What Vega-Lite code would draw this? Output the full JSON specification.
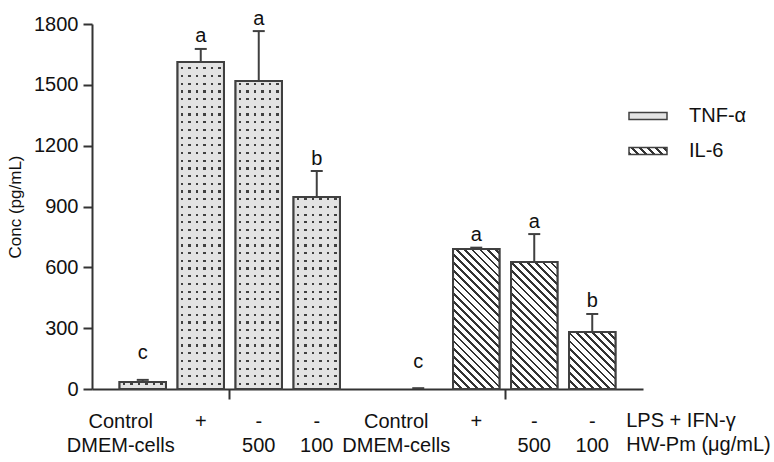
{
  "$schema": "https://vega.github.io/schema/vega-lite/v6.json",
  "autosize": "none",
  "width": 551,
  "height": 365,
  "padding": {"left": 92, "top": 24, "right": 131, "bottom": 73},
  "config": {
    "view": {"stroke": null},
    "font": "Liberation Sans",
    "axis": {"domainColor": "#333", "domainWidth": 2, "tickColor": "#333", "tickWidth": 2, "labelColor": "#111", "grid": false, "labelFont": "Liberation Sans", "titleFont": "Liberation Sans"}
  },
  "params": [
    {"name": "hatchStops", "value": [
      {"offset":0,"color":"#333"},{"offset":0.0097,"color":"#333"},{"offset":0.0097,"color":"#fff"},{"offset":0.0278,"color":"#fff"},
      {"offset":0.0278,"color":"#333"},{"offset":0.0375,"color":"#333"},{"offset":0.0375,"color":"#fff"},{"offset":0.0556,"color":"#fff"},
      {"offset":0.0556,"color":"#333"},{"offset":0.0653,"color":"#333"},{"offset":0.0653,"color":"#fff"},{"offset":0.0833,"color":"#fff"},
      {"offset":0.0833,"color":"#333"},{"offset":0.0931,"color":"#333"},{"offset":0.0931,"color":"#fff"},{"offset":0.1111,"color":"#fff"},
      {"offset":0.1111,"color":"#333"},{"offset":0.1208,"color":"#333"},{"offset":0.1208,"color":"#fff"},{"offset":0.1389,"color":"#fff"},
      {"offset":0.1389,"color":"#333"},{"offset":0.1486,"color":"#333"},{"offset":0.1486,"color":"#fff"},{"offset":0.1667,"color":"#fff"},
      {"offset":0.1667,"color":"#333"},{"offset":0.1764,"color":"#333"},{"offset":0.1764,"color":"#fff"},{"offset":0.1944,"color":"#fff"},
      {"offset":0.1944,"color":"#333"},{"offset":0.2042,"color":"#333"},{"offset":0.2042,"color":"#fff"},{"offset":0.2222,"color":"#fff"},
      {"offset":0.2222,"color":"#333"},{"offset":0.2319,"color":"#333"},{"offset":0.2319,"color":"#fff"},{"offset":0.25,"color":"#fff"},
      {"offset":0.25,"color":"#333"},{"offset":0.2597,"color":"#333"},{"offset":0.2597,"color":"#fff"},{"offset":0.2778,"color":"#fff"},
      {"offset":0.2778,"color":"#333"},{"offset":0.2875,"color":"#333"},{"offset":0.2875,"color":"#fff"},{"offset":0.3056,"color":"#fff"},
      {"offset":0.3056,"color":"#333"},{"offset":0.3153,"color":"#333"},{"offset":0.3153,"color":"#fff"},{"offset":0.3333,"color":"#fff"},
      {"offset":0.3333,"color":"#333"},{"offset":0.3431,"color":"#333"},{"offset":0.3431,"color":"#fff"},{"offset":0.3611,"color":"#fff"},
      {"offset":0.3611,"color":"#333"},{"offset":0.3708,"color":"#333"},{"offset":0.3708,"color":"#fff"},{"offset":0.3889,"color":"#fff"},
      {"offset":0.3889,"color":"#333"},{"offset":0.3986,"color":"#333"},{"offset":0.3986,"color":"#fff"},{"offset":0.4167,"color":"#fff"},
      {"offset":0.4167,"color":"#333"},{"offset":0.4264,"color":"#333"},{"offset":0.4264,"color":"#fff"},{"offset":0.4444,"color":"#fff"},
      {"offset":0.4444,"color":"#333"},{"offset":0.4542,"color":"#333"},{"offset":0.4542,"color":"#fff"},{"offset":0.4722,"color":"#fff"},
      {"offset":0.4722,"color":"#333"},{"offset":0.4819,"color":"#333"},{"offset":0.4819,"color":"#fff"},{"offset":0.5,"color":"#fff"},
      {"offset":0.5,"color":"#333"},{"offset":0.5097,"color":"#333"},{"offset":0.5097,"color":"#fff"},{"offset":0.5278,"color":"#fff"},
      {"offset":0.5278,"color":"#333"},{"offset":0.5375,"color":"#333"},{"offset":0.5375,"color":"#fff"},{"offset":0.5556,"color":"#fff"},
      {"offset":0.5556,"color":"#333"},{"offset":0.5653,"color":"#333"},{"offset":0.5653,"color":"#fff"},{"offset":0.5833,"color":"#fff"},
      {"offset":0.5833,"color":"#333"},{"offset":0.5931,"color":"#333"},{"offset":0.5931,"color":"#fff"},{"offset":0.6111,"color":"#fff"},
      {"offset":0.6111,"color":"#333"},{"offset":0.6208,"color":"#333"},{"offset":0.6208,"color":"#fff"},{"offset":0.6389,"color":"#fff"},
      {"offset":0.6389,"color":"#333"},{"offset":0.6486,"color":"#333"},{"offset":0.6486,"color":"#fff"},{"offset":0.6667,"color":"#fff"},
      {"offset":0.6667,"color":"#333"},{"offset":0.6764,"color":"#333"},{"offset":0.6764,"color":"#fff"},{"offset":0.6944,"color":"#fff"},
      {"offset":0.6944,"color":"#333"},{"offset":0.7042,"color":"#333"},{"offset":0.7042,"color":"#fff"},{"offset":0.7222,"color":"#fff"},
      {"offset":0.7222,"color":"#333"},{"offset":0.7319,"color":"#333"},{"offset":0.7319,"color":"#fff"},{"offset":0.75,"color":"#fff"},
      {"offset":0.75,"color":"#333"},{"offset":0.7597,"color":"#333"},{"offset":0.7597,"color":"#fff"},{"offset":0.7778,"color":"#fff"},
      {"offset":0.7778,"color":"#333"},{"offset":0.7875,"color":"#333"},{"offset":0.7875,"color":"#fff"},{"offset":0.8056,"color":"#fff"},
      {"offset":0.8056,"color":"#333"},{"offset":0.8153,"color":"#333"},{"offset":0.8153,"color":"#fff"},{"offset":0.8333,"color":"#fff"},
      {"offset":0.8333,"color":"#333"},{"offset":0.8431,"color":"#333"},{"offset":0.8431,"color":"#fff"},{"offset":0.8611,"color":"#fff"},
      {"offset":0.8611,"color":"#333"},{"offset":0.8708,"color":"#333"},{"offset":0.8708,"color":"#fff"},{"offset":0.8889,"color":"#fff"},
      {"offset":0.8889,"color":"#333"},{"offset":0.8986,"color":"#333"},{"offset":0.8986,"color":"#fff"},{"offset":0.9167,"color":"#fff"},
      {"offset":0.9167,"color":"#333"},{"offset":0.9264,"color":"#333"},{"offset":0.9264,"color":"#fff"},{"offset":0.9444,"color":"#fff"},
      {"offset":0.9444,"color":"#333"},{"offset":0.9542,"color":"#333"},{"offset":0.9542,"color":"#fff"},{"offset":0.9722,"color":"#fff"},
      {"offset":0.9722,"color":"#333"},{"offset":0.9819,"color":"#333"},{"offset":0.9819,"color":"#fff"},{"offset":1,"color":"#fff"}
    ]},
    {"name": "rowStops", "value": [
      {"offset":0,"color":"#e3e3e3"},
      {"offset":0.0096,"color":"#e3e3e3"},{"offset":0.0096,"color":"transparent"},{"offset":0.0151,"color":"transparent"},{"offset":0.0151,"color":"#e3e3e3"},
      {"offset":0.0288,"color":"#e3e3e3"},{"offset":0.0288,"color":"transparent"},{"offset":0.0343,"color":"transparent"},{"offset":0.0343,"color":"#e3e3e3"},
      {"offset":0.0481,"color":"#e3e3e3"},{"offset":0.0481,"color":"transparent"},{"offset":0.0536,"color":"transparent"},{"offset":0.0536,"color":"#e3e3e3"},
      {"offset":0.0673,"color":"#e3e3e3"},{"offset":0.0673,"color":"transparent"},{"offset":0.0728,"color":"transparent"},{"offset":0.0728,"color":"#e3e3e3"},
      {"offset":0.0865,"color":"#e3e3e3"},{"offset":0.0865,"color":"transparent"},{"offset":0.092,"color":"transparent"},{"offset":0.092,"color":"#e3e3e3"},
      {"offset":0.1058,"color":"#e3e3e3"},{"offset":0.1058,"color":"transparent"},{"offset":0.1113,"color":"transparent"},{"offset":0.1113,"color":"#e3e3e3"},
      {"offset":0.125,"color":"#e3e3e3"},{"offset":0.125,"color":"transparent"},{"offset":0.1305,"color":"transparent"},{"offset":0.1305,"color":"#e3e3e3"},
      {"offset":0.1442,"color":"#e3e3e3"},{"offset":0.1442,"color":"transparent"},{"offset":0.1497,"color":"transparent"},{"offset":0.1497,"color":"#e3e3e3"},
      {"offset":0.1635,"color":"#e3e3e3"},{"offset":0.1635,"color":"transparent"},{"offset":0.169,"color":"transparent"},{"offset":0.169,"color":"#e3e3e3"},
      {"offset":0.1827,"color":"#e3e3e3"},{"offset":0.1827,"color":"transparent"},{"offset":0.1882,"color":"transparent"},{"offset":0.1882,"color":"#e3e3e3"},
      {"offset":0.2019,"color":"#e3e3e3"},{"offset":0.2019,"color":"transparent"},{"offset":0.2074,"color":"transparent"},{"offset":0.2074,"color":"#e3e3e3"},
      {"offset":0.2212,"color":"#e3e3e3"},{"offset":0.2212,"color":"transparent"},{"offset":0.2267,"color":"transparent"},{"offset":0.2267,"color":"#e3e3e3"},
      {"offset":0.2404,"color":"#e3e3e3"},{"offset":0.2404,"color":"transparent"},{"offset":0.2459,"color":"transparent"},{"offset":0.2459,"color":"#e3e3e3"},
      {"offset":0.2596,"color":"#e3e3e3"},{"offset":0.2596,"color":"transparent"},{"offset":0.2651,"color":"transparent"},{"offset":0.2651,"color":"#e3e3e3"},
      {"offset":0.2788,"color":"#e3e3e3"},{"offset":0.2788,"color":"transparent"},{"offset":0.2843,"color":"transparent"},{"offset":0.2843,"color":"#e3e3e3"},
      {"offset":0.2981,"color":"#e3e3e3"},{"offset":0.2981,"color":"transparent"},{"offset":0.3036,"color":"transparent"},{"offset":0.3036,"color":"#e3e3e3"},
      {"offset":0.3173,"color":"#e3e3e3"},{"offset":0.3173,"color":"transparent"},{"offset":0.3228,"color":"transparent"},{"offset":0.3228,"color":"#e3e3e3"},
      {"offset":0.3365,"color":"#e3e3e3"},{"offset":0.3365,"color":"transparent"},{"offset":0.342,"color":"transparent"},{"offset":0.342,"color":"#e3e3e3"},
      {"offset":0.3558,"color":"#e3e3e3"},{"offset":0.3558,"color":"transparent"},{"offset":0.3613,"color":"transparent"},{"offset":0.3613,"color":"#e3e3e3"},
      {"offset":0.375,"color":"#e3e3e3"},{"offset":0.375,"color":"transparent"},{"offset":0.3805,"color":"transparent"},{"offset":0.3805,"color":"#e3e3e3"},
      {"offset":0.3942,"color":"#e3e3e3"},{"offset":0.3942,"color":"transparent"},{"offset":0.3997,"color":"transparent"},{"offset":0.3997,"color":"#e3e3e3"},
      {"offset":0.4135,"color":"#e3e3e3"},{"offset":0.4135,"color":"transparent"},{"offset":0.419,"color":"transparent"},{"offset":0.419,"color":"#e3e3e3"},
      {"offset":0.4327,"color":"#e3e3e3"},{"offset":0.4327,"color":"transparent"},{"offset":0.4382,"color":"transparent"},{"offset":0.4382,"color":"#e3e3e3"},
      {"offset":0.4519,"color":"#e3e3e3"},{"offset":0.4519,"color":"transparent"},{"offset":0.4574,"color":"transparent"},{"offset":0.4574,"color":"#e3e3e3"},
      {"offset":0.4712,"color":"#e3e3e3"},{"offset":0.4712,"color":"transparent"},{"offset":0.4767,"color":"transparent"},{"offset":0.4767,"color":"#e3e3e3"},
      {"offset":0.4904,"color":"#e3e3e3"},{"offset":0.4904,"color":"transparent"},{"offset":0.4959,"color":"transparent"},{"offset":0.4959,"color":"#e3e3e3"},
      {"offset":0.5096,"color":"#e3e3e3"},{"offset":0.5096,"color":"transparent"},{"offset":0.5151,"color":"transparent"},{"offset":0.5151,"color":"#e3e3e3"},
      {"offset":0.5288,"color":"#e3e3e3"},{"offset":0.5288,"color":"transparent"},{"offset":0.5343,"color":"transparent"},{"offset":0.5343,"color":"#e3e3e3"},
      {"offset":0.5481,"color":"#e3e3e3"},{"offset":0.5481,"color":"transparent"},{"offset":0.5536,"color":"transparent"},{"offset":0.5536,"color":"#e3e3e3"},
      {"offset":0.5673,"color":"#e3e3e3"},{"offset":0.5673,"color":"transparent"},{"offset":0.5728,"color":"transparent"},{"offset":0.5728,"color":"#e3e3e3"},
      {"offset":0.5865,"color":"#e3e3e3"},{"offset":0.5865,"color":"transparent"},{"offset":0.592,"color":"transparent"},{"offset":0.592,"color":"#e3e3e3"},
      {"offset":0.6058,"color":"#e3e3e3"},{"offset":0.6058,"color":"transparent"},{"offset":0.6113,"color":"transparent"},{"offset":0.6113,"color":"#e3e3e3"},
      {"offset":0.625,"color":"#e3e3e3"},{"offset":0.625,"color":"transparent"},{"offset":0.6305,"color":"transparent"},{"offset":0.6305,"color":"#e3e3e3"},
      {"offset":0.6442,"color":"#e3e3e3"},{"offset":0.6442,"color":"transparent"},{"offset":0.6497,"color":"transparent"},{"offset":0.6497,"color":"#e3e3e3"},
      {"offset":0.6635,"color":"#e3e3e3"},{"offset":0.6635,"color":"transparent"},{"offset":0.669,"color":"transparent"},{"offset":0.669,"color":"#e3e3e3"},
      {"offset":0.6827,"color":"#e3e3e3"},{"offset":0.6827,"color":"transparent"},{"offset":0.6882,"color":"transparent"},{"offset":0.6882,"color":"#e3e3e3"},
      {"offset":0.7019,"color":"#e3e3e3"},{"offset":0.7019,"color":"transparent"},{"offset":0.7074,"color":"transparent"},{"offset":0.7074,"color":"#e3e3e3"},
      {"offset":0.7212,"color":"#e3e3e3"},{"offset":0.7212,"color":"transparent"},{"offset":0.7267,"color":"transparent"},{"offset":0.7267,"color":"#e3e3e3"},
      {"offset":0.7404,"color":"#e3e3e3"},{"offset":0.7404,"color":"transparent"},{"offset":0.7459,"color":"transparent"},{"offset":0.7459,"color":"#e3e3e3"},
      {"offset":0.7596,"color":"#e3e3e3"},{"offset":0.7596,"color":"transparent"},{"offset":0.7651,"color":"transparent"},{"offset":0.7651,"color":"#e3e3e3"},
      {"offset":0.7788,"color":"#e3e3e3"},{"offset":0.7788,"color":"transparent"},{"offset":0.7843,"color":"transparent"},{"offset":0.7843,"color":"#e3e3e3"},
      {"offset":0.7981,"color":"#e3e3e3"},{"offset":0.7981,"color":"transparent"},{"offset":0.8036,"color":"transparent"},{"offset":0.8036,"color":"#e3e3e3"},
      {"offset":0.8173,"color":"#e3e3e3"},{"offset":0.8173,"color":"transparent"},{"offset":0.8228,"color":"transparent"},{"offset":0.8228,"color":"#e3e3e3"},
      {"offset":0.8365,"color":"#e3e3e3"},{"offset":0.8365,"color":"transparent"},{"offset":0.842,"color":"transparent"},{"offset":0.842,"color":"#e3e3e3"},
      {"offset":0.8558,"color":"#e3e3e3"},{"offset":0.8558,"color":"transparent"},{"offset":0.8613,"color":"transparent"},{"offset":0.8613,"color":"#e3e3e3"},
      {"offset":0.875,"color":"#e3e3e3"},{"offset":0.875,"color":"transparent"},{"offset":0.8805,"color":"transparent"},{"offset":0.8805,"color":"#e3e3e3"},
      {"offset":0.8942,"color":"#e3e3e3"},{"offset":0.8942,"color":"transparent"},{"offset":0.8997,"color":"transparent"},{"offset":0.8997,"color":"#e3e3e3"},
      {"offset":0.9135,"color":"#e3e3e3"},{"offset":0.9135,"color":"transparent"},{"offset":0.919,"color":"transparent"},{"offset":0.919,"color":"#e3e3e3"},
      {"offset":0.9327,"color":"#e3e3e3"},{"offset":0.9327,"color":"transparent"},{"offset":0.9382,"color":"transparent"},{"offset":0.9382,"color":"#e3e3e3"},
      {"offset":0.9519,"color":"#e3e3e3"},{"offset":0.9519,"color":"transparent"},{"offset":0.9574,"color":"transparent"},{"offset":0.9574,"color":"#e3e3e3"},
      {"offset":0.9712,"color":"#e3e3e3"},{"offset":0.9712,"color":"transparent"},{"offset":0.9767,"color":"transparent"},{"offset":0.9767,"color":"#e3e3e3"},
      {"offset":0.9904,"color":"#e3e3e3"},{"offset":0.9904,"color":"transparent"},{"offset":0.9959,"color":"transparent"},{"offset":0.9959,"color":"#e3e3e3"},
      {"offset":1,"color":"#e3e3e3"}
    ]},
    {"name": "legendStops", "value": [
      {"offset":0,"color":"#333"},{"offset":0.05,"color":"#333"},{"offset":0.05,"color":"#fff"},{"offset":0.1429,"color":"#fff"},
      {"offset":0.1429,"color":"#333"},{"offset":0.1929,"color":"#333"},{"offset":0.1929,"color":"#fff"},{"offset":0.2857,"color":"#fff"},
      {"offset":0.2857,"color":"#333"},{"offset":0.3357,"color":"#333"},{"offset":0.3357,"color":"#fff"},{"offset":0.4286,"color":"#fff"},
      {"offset":0.4286,"color":"#333"},{"offset":0.4786,"color":"#333"},{"offset":0.4786,"color":"#fff"},{"offset":0.5714,"color":"#fff"},
      {"offset":0.5714,"color":"#333"},{"offset":0.6214,"color":"#333"},{"offset":0.6214,"color":"#fff"},{"offset":0.7143,"color":"#fff"},
      {"offset":0.7143,"color":"#333"},{"offset":0.7643,"color":"#333"},{"offset":0.7643,"color":"#fff"},{"offset":0.8571,"color":"#fff"},
      {"offset":0.8571,"color":"#333"},{"offset":0.9071,"color":"#333"},{"offset":0.9071,"color":"#fff"},{"offset":1,"color":"#fff"}
    ]}
  ],
  "data": {"values": [
    {"cyt": "TNF-α", "cond": "Control", "mean": 35, "err": 45, "ly": 116, "letter": "c", "lab": "Control\nDMEM-cells"},
    {"cyt": "TNF-α", "cond": "LPS", "mean": 1612, "err": 1677, "ly": 1677, "letter": "a", "lab": "+"},
    {"cyt": "TNF-α", "cond": "500", "mean": 1519, "err": 1765, "ly": 1765, "letter": "a", "lab": "-\n500"},
    {"cyt": "TNF-α", "cond": "100", "mean": 947, "err": 1075, "ly": 1075, "letter": "b", "lab": "-\n100"},
    {"cyt": "IL-6", "cond": "Control", "mean": 0, "err": 4, "ly": 71, "letter": "c", "lab": "Control\nDMEM-cells"},
    {"cyt": "IL-6", "cond": "LPS", "mean": 690, "err": 697, "ly": 697, "letter": "a", "lab": "+"},
    {"cyt": "IL-6", "cond": "500", "mean": 626, "err": 764, "ly": 764, "letter": "a", "lab": "-\n500"},
    {"cyt": "IL-6", "cond": "100", "mean": 281, "err": 370, "ly": 370, "letter": "b", "lab": "-\n100"}
  ]},
  "encoding": {
    "x": {"field": "cyt", "type": "nominal", "sort": null,
      "scale": {"domain": ["TNF-α", "IL-6"], "paddingInner": 0, "paddingOuter": 0},
      "axis": {"title": null, "labels": false, "ticks": true, "tickSize": 10, "domain": true}},
    "xOffset": {"field": "cond", "type": "nominal", "sort": null,
      "scale": {"domain": ["Control", "LPS", "500", "100"], "paddingInner": 0.2, "paddingOuter": 0.475}}
  },
  "layer": [
    {
      "transform": [{"filter": "datum.mean > 0"}],
      "mark": {"type": "bar", "stroke": "#404040", "strokeWidth": 2},
      "encoding": {
        "y": {"field": "mean", "type": "quantitative", "stack": null,
          "scale": {"domain": [0, 1800], "nice": false},
          "axis": {"values": [0, 300, 600, 900, 1200, 1500, 1800], "format": "d", "tickSize": 9, "labelPadding": 5, "labelFontSize": 20,
            "title": "Conc (pg/mL)", "titleFontSize": 17, "titleFontWeight": "normal", "titleColor": "#111", "titlePadding": 9}},
        "fill": {"field": "cyt", "type": "nominal",
          "scale": {"domain": ["TNF-α", "IL-6"], "range": ["#e3e3e3", {"expr": "{gradient:'linear', x1:0, y1:1, x2:1.44, y2:0.735, stops: legendStops}"}]},
          "legend": {"orient": "none", "legendX": 536, "legendY": 72, "title": null,
            "symbolType": "M-1,-0.184H1V0.184H-1Z", "symbolSize": 1444,
            "labelFont": "Liberation Sans", "labelFontSize": 20, "labelColor": "#111", "labelOffset": 21, "rowPadding": 5,
            "symbolStrokeColor": "#404040", "symbolStrokeWidth": 1.5, "symbolOpacity": 1}}
      }
    },
    {
      "transform": [{"filter": "datum.mean > 0 && datum.cyt === 'TNF-α'"}],
      "mark": {"type": "bar", "strokeWidth": 0,
        "fill": {"gradient": "linear", "x1": 0, "y1": 0, "x2": 1, "y2": 0, "stops": [
          {"offset":0,"color":"#e3e3e3"},{"offset":0.0733,"color":"#e3e3e3"},{"offset":0.0733,"color":"#404040"},{"offset":0.1207,"color":"#404040"},{"offset":0.1207,"color":"#e3e3e3"},
          {"offset":0.2349,"color":"#e3e3e3"},{"offset":0.2349,"color":"#404040"},{"offset":0.2823,"color":"#404040"},{"offset":0.2823,"color":"#e3e3e3"},
          {"offset":0.3966,"color":"#e3e3e3"},{"offset":0.3966,"color":"#404040"},{"offset":0.444,"color":"#404040"},{"offset":0.444,"color":"#e3e3e3"},
          {"offset":0.5582,"color":"#e3e3e3"},{"offset":0.5582,"color":"#404040"},{"offset":0.6056,"color":"#404040"},{"offset":0.6056,"color":"#e3e3e3"},
          {"offset":0.7198,"color":"#e3e3e3"},{"offset":0.7198,"color":"#404040"},{"offset":0.7672,"color":"#404040"},{"offset":0.7672,"color":"#e3e3e3"},
          {"offset":0.8815,"color":"#e3e3e3"},{"offset":0.8815,"color":"#404040"},{"offset":0.9289,"color":"#404040"},{"offset":0.9289,"color":"#e3e3e3"},
          {"offset":1,"color":"#e3e3e3"}]}},
      "encoding": {"y": {"field": "mean", "type": "quantitative", "stack": null}}
    },
    {
      "transform": [{"filter": "datum.mean > 0 && datum.cyt === 'TNF-α'"}],
      "mark": {"type": "bar", "stroke": "#404040", "strokeWidth": 2,
        "fill": {"expr": "{gradient:'linear', x1:0, y1:1, x2:0, y2: 1 - 400.4/max(1, scale('y',0) - scale('y', datum.mean)), stops: rowStops}"}},
      "encoding": {"y": {"field": "mean", "type": "quantitative", "stack": null}}
    },
    {
      "transform": [{"filter": "datum.mean > 0 && datum.cyt === 'IL-6'"}],
      "mark": {"type": "bar", "stroke": "#404040", "strokeWidth": 2,
        "fill": {"expr": "{gradient:'linear', x1:0, y1:1, x2: 282.84/(bandwidth('xOffset')*(1+pow((scale('y',0)-scale('y',datum.mean))/bandwidth('xOffset'),2))), y2: 1 - 282.84*((scale('y',0)-scale('y',datum.mean))/bandwidth('xOffset'))/(bandwidth('xOffset')*(1+pow((scale('y',0)-scale('y',datum.mean))/bandwidth('xOffset'),2))), stops: hatchStops}"}},
      "encoding": {"y": {"field": "mean", "type": "quantitative", "stack": null}}
    },
    {
      "mark": {"type": "rule", "color": "#404040", "strokeWidth": 2},
      "encoding": {
        "y": {"field": "mean", "type": "quantitative"},
        "y2": {"field": "err"}
      }
    },
    {
      "mark": {"type": "point", "shape": "M-1,0H1", "size": 144, "filled": false, "stroke": "#404040", "strokeWidth": 2, "opacity": 1},
      "encoding": {"y": {"field": "err", "type": "quantitative"}}
    },
    {
      "mark": {"type": "text", "fontSize": 20, "color": "#111", "baseline": "alphabetic", "dy": -6.5, "font": "Liberation Sans"},
      "encoding": {
        "y": {"field": "ly", "type": "quantitative"},
        "text": {"field": "letter"}
      }
    },
    {
      "transform": [{"filter": "datum.cond !== 'Control'"}],
      "mark": {"type": "text", "fontSize": 20, "color": "#111", "baseline": "alphabetic", "dy": 39, "lineBreak": "\n", "lineHeight": 23.5, "align": "center", "font": "Liberation Sans"},
      "encoding": {
        "y": {"datum": 0, "type": "quantitative"},
        "text": {"field": "lab"}
      }
    },
    {
      "transform": [{"filter": "datum.cond === 'Control'"}],
      "mark": {"type": "text", "fontSize": 20, "color": "#111", "baseline": "alphabetic", "dy": 39, "dx": -22, "lineBreak": "\n", "lineHeight": 23.5, "align": "center", "font": "Liberation Sans"},
      "encoding": {
        "y": {"datum": 0, "type": "quantitative"},
        "text": {"field": "lab"}
      }
    },
    {
      "data": {"values": [{"cyt": "IL-6", "cond": "100", "txt": "LPS + IFN-γ\nHW-Pm (μg/mL)"}]},
      "mark": {"type": "text", "fontSize": 20, "color": "#111", "baseline": "alphabetic", "dy": 38, "dx": 34, "lineBreak": "\n", "lineHeight": 23.5, "align": "left", "font": "Liberation Sans"},
      "encoding": {
        "y": {"datum": 0, "type": "quantitative"},
        "text": {"field": "txt"}
      }
    }
  ]
}
